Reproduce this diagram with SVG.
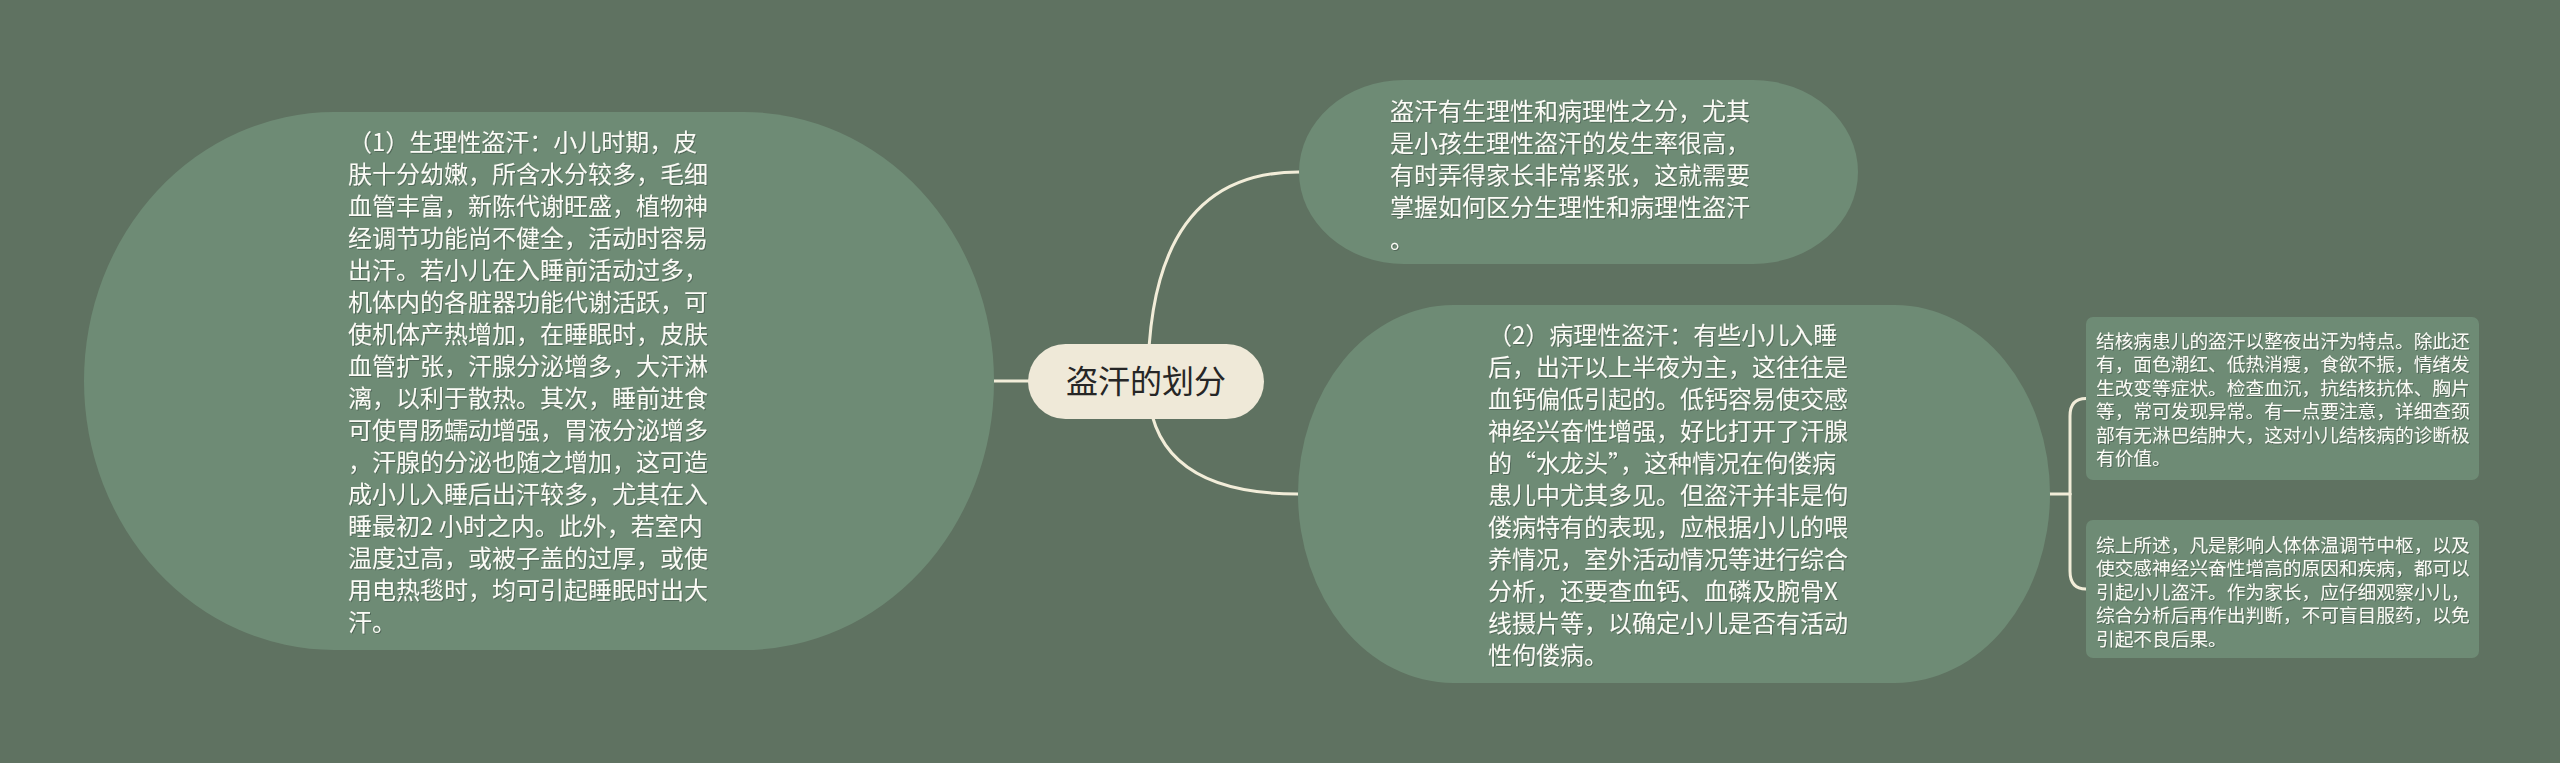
<svg xmlns="http://www.w3.org/2000/svg" width="2560" height="763" viewBox="0 0 2560 763">
<style>
.bg{fill:#5f7261}
.node{fill:#6e8b75}
.center{fill:#efe9d8}
.t{font-family:"Noto Sans CJK SC","Noto Sans",sans-serif;fill:#fbfbf6;font-size:24px}
.ts{font-family:"Noto Sans CJK SC","Noto Sans",sans-serif;fill:#fbfbf6;font-size:18.7px}
.tc{font-family:"Noto Sans CJK SC","Noto Sans",sans-serif;fill:#262626;font-size:32px;text-anchor:middle}
.link{fill:none;stroke:#f2edd9;stroke-width:3;stroke-linecap:round}
</style>
<defs>
<filter id="sh" x="-5%" y="-5%" width="110%" height="110%">
<feDropShadow dx="1" dy="1" stdDeviation="0.6" flood-color="#2f3a31" flood-opacity="0.45"/>
</filter>
</defs>
<rect class="bg" x="0" y="0" width="2560" height="763"/>
<g id="connectors">
<path class="link" d="M1146 381 H994"/>
<path class="link" d="M1148 381 Q1148 172 1299 172"/>
<path class="link" d="M1148 381 Q1148 494 1298 494"/>
<path class="link" d="M2050 494 H2070"/>
<path class="link" d="M2070 494 V416 Q2070 398.5 2086 398.5"/>
<path class="link" d="M2070 494 V571 Q2070 589 2086 589"/>
</g>
<g id="node-center">
<rect class="center" x="1028" y="344" width="236" height="75" rx="37.5" ry="37.5"/>
<text class="tc" x="1146" y="393">盗汗的划分</text>
</g>
<g id="node-physiological">
<rect class="node" x="84" y="112" width="910" height="538" rx="250" ry="269"/>
<text class="t" filter="url(#sh)">
<tspan x="348" y="151">（1）生理性盗汗：小儿时期，皮</tspan>
<tspan x="348" y="183">肤十分幼嫩，所含水分较多，毛细</tspan>
<tspan x="348" y="215">血管丰富，新陈代谢旺盛，植物神</tspan>
<tspan x="348" y="247">经调节功能尚不健全，活动时容易</tspan>
<tspan x="348" y="279">出汗。若小儿在入睡前活动过多，</tspan>
<tspan x="348" y="311">机体内的各脏器功能代谢活跃，可</tspan>
<tspan x="348" y="343">使机体产热增加，在睡眠时，皮肤</tspan>
<tspan x="348" y="375">血管扩张，汗腺分泌增多，大汗淋</tspan>
<tspan x="348" y="407">漓，以利于散热。其次，睡前进食</tspan>
<tspan x="348" y="439">可使胃肠蠕动增强，胃液分泌增多</tspan>
<tspan x="348" y="471">，汗腺的分泌也随之增加，这可造</tspan>
<tspan x="348" y="503">成小儿入睡后出汗较多，尤其在入</tspan>
<tspan x="348" y="535">睡最初2 小时之内。此外，若室内</tspan>
<tspan x="348" y="567">温度过高，或被子盖的过厚，或使</tspan>
<tspan x="348" y="599">用电热毯时，均可引起睡眠时出大</tspan>
<tspan x="348" y="631">汗。</tspan>
</text>
</g>
<g id="node-intro">
<rect class="node" x="1299" y="80" width="559" height="184" rx="105" ry="92"/>
<text class="t" filter="url(#sh)">
<tspan x="1390" y="120">盗汗有生理性和病理性之分，尤其</tspan>
<tspan x="1390" y="152">是小孩生理性盗汗的发生率很高，</tspan>
<tspan x="1390" y="184">有时弄得家长非常紧张，这就需要</tspan>
<tspan x="1390" y="216">掌握如何区分生理性和病理性盗汗</tspan>
<tspan x="1390" y="248">。</tspan>
</text>
</g>
<g id="node-pathological">
<rect class="node" x="1298" y="305" width="752" height="378" rx="155" ry="189"/>
<text class="t" filter="url(#sh)">
<tspan x="1488" y="344">（2）病理性盗汗：有些小儿入睡</tspan>
<tspan x="1488" y="376">后，出汗以上半夜为主，这往往是</tspan>
<tspan x="1488" y="408">血钙偏低引起的。低钙容易使交感</tspan>
<tspan x="1488" y="440">神经兴奋性增强，好比打开了汗腺</tspan>
<tspan x="1488" y="472">的“水龙头”，这种情况在佝偻病</tspan>
<tspan x="1488" y="504">患儿中尤其多见。但盗汗并非是佝</tspan>
<tspan x="1488" y="536">偻病特有的表现，应根据小儿的喂</tspan>
<tspan x="1488" y="568">养情况，室外活动情况等进行综合</tspan>
<tspan x="1488" y="600">分析，还要查血钙、血磷及腕骨X</tspan>
<tspan x="1488" y="632">线摄片等，以确定小儿是否有活动</tspan>
<tspan x="1488" y="664">性佝偻病。</tspan>
</text>
</g>
<g id="node-tuberculosis">
<rect class="node" x="2086" y="317" width="393" height="163" rx="7" ry="7"/>
<text class="ts" filter="url(#sh)">
<tspan x="2096" y="348">结核病患儿的盗汗以整夜出汗为特点。除此还</tspan>
<tspan x="2096" y="371.4">有，面色潮红、低热消瘦，食欲不振，情绪发</tspan>
<tspan x="2096" y="394.8">生改变等症状。检查血沉，抗结核抗体、胸片</tspan>
<tspan x="2096" y="418.2">等，常可发现异常。有一点要注意，详细查颈</tspan>
<tspan x="2096" y="441.6">部有无淋巴结肿大，这对小儿结核病的诊断极</tspan>
<tspan x="2096" y="465">有价值。</tspan>
</text>
</g>
<g id="node-summary">
<rect class="node" x="2086" y="520" width="393" height="138" rx="7" ry="7"/>
<text class="ts" filter="url(#sh)">
<tspan x="2096" y="552">综上所述，凡是影响人体体温调节中枢，以及</tspan>
<tspan x="2096" y="575.4">使交感神经兴奋性增高的原因和疾病，都可以</tspan>
<tspan x="2096" y="598.8">引起小儿盗汗。作为家长，应仔细观察小儿，</tspan>
<tspan x="2096" y="622.2">综合分析后再作出判断，不可盲目服药，以免</tspan>
<tspan x="2096" y="645.6">引起不良后果。</tspan>
</text>
</g>
</svg>
